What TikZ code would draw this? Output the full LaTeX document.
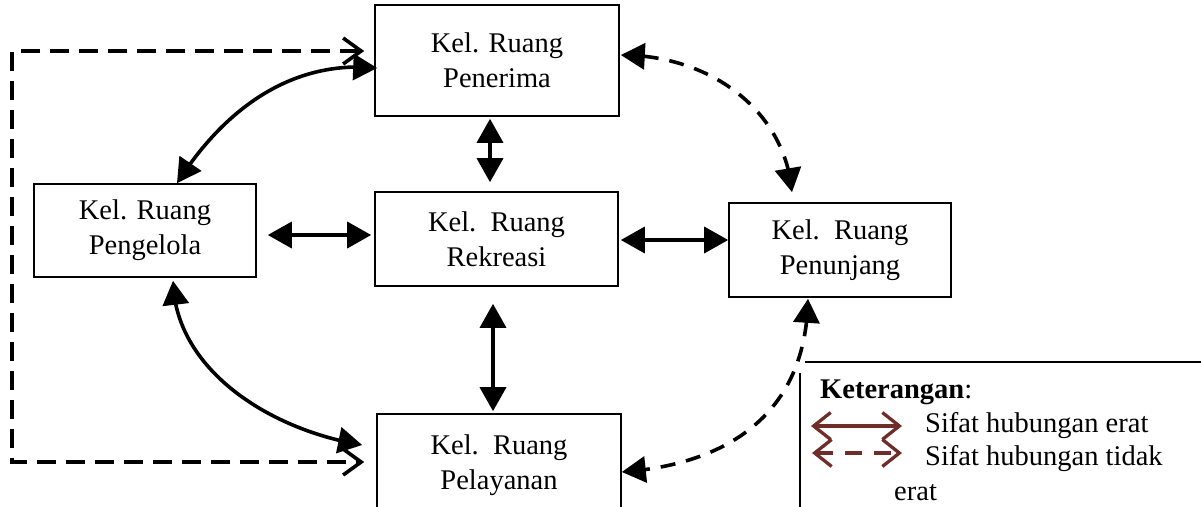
\documentclass[tikz,border=0pt]{standalone}
\usepackage{fontspec}
\setmainfont{Liberation Serif}
\usetikzlibrary{arrows.meta,calc,bending}
\definecolor{legred}{RGB}{112,44,40}
\begin{document}
\begin{tikzpicture}[x=1pt,y=-1pt,
  box/.style={draw,line width=1.6pt,align=center,inner sep=0pt,
    font=\fontsize{28.5}{35}\selectfont},
  legtext/.style={anchor=base west,inner sep=0pt,font=\fontsize{28.5}{33.5}\selectfont},
  tri/.tip={Triangle[length=24pt,width=26pt]},
  barb/.tip={Straight Barb[length=18pt,width=26pt]},
  legbarb/.tip={Straight Barb[length=17pt,width=27pt,line join=miter]},
  solidarrow/.style={line width=3.6pt,tri-tri},
  dasharrow/.style={line width=3.6pt,dash pattern=on 15pt off 11pt,tri-tri},
  orthoarrow/.style={line width=3.6pt,dash pattern=on 19pt off 10pt,barb-barb},
  legsolid/.style={draw=legred,line width=3.3pt,legbarb-legbarb},
  legdash/.style={draw=legred,line width=3.3pt,dash pattern=on 17pt off 12pt,legbarb-legbarb},
  frame/.style={line width=1.6pt}]
\useasboundingbox (0,0) rectangle (1201,506);

% boxes
\node[box,minimum width=244pt,minimum height=111pt] (pen) at (497,60.5) {Kel. Ruang\\Penerima};
\node[box,minimum width=222pt,minimum height=93pt] (peng) at (145,230.5) {Kel. Ruang\\Pengelola};
\node[box,minimum width=243pt,minimum height=94pt] (rek) at (496.5,239) {Kel.\ \ Ruang\\Rekreasi};
\node[box,minimum width=222pt,minimum height=94pt] (pun) at (840,250) {Kel.\ \ Ruang\\Penunjang};
\node[box,minimum width=244pt,minimum height=102pt] (pel) at (499,465) {Kel.\ \ Ruang\\Pelayanan};

% straight arrows
\draw[solidarrow] ($(peng.east)+(11,4.5)$) -- ($(rek.west)+(-3,-4)$);
\draw[solidarrow] ($(rek.east)+(2,1)$) -- ($(pun.west)+(0,-10)$);
\draw[solidarrow] ($(pen.south)+(-7,2)$) -- ($(rek.north)+(-6.5,-9)$);
\draw[solidarrow] ($(rek.south)+(-3.5,17)$) -- ($(pel.north)+(-6,-2)$);

% curved solid arrows
\draw[solidarrow] ($(peng.north)+(32,0)$) .. controls (230,100) and (300,60) .. ($(pen.west)+(3,7.5)$);
\draw[solidarrow] ($(peng.south)+(28,3)$) .. controls (175,370) and (270,430) .. ($(pel.west)+(-14,-20)$);

% curved dashed arrows
\draw[dasharrow] ($(pen.east)+(1,-5.5)$) .. controls (710,55) and (785,110) .. ($(pun.north)+(-48,-10)$);
\draw[dasharrow] ($(pun.south)+(-32,1)$) .. controls (806,420) and (720,465) .. ($(pel.east)+(0,7)$);

% orthogonal dashed connector
\coordinate (otop) at ($(pen.west)+(-10,-9.5)$);
\coordinate (obot) at ($(pel.west)+(-12,-3)$);
\coordinate (ctop) at (12,51);
\coordinate (cbot) at (12,462);
\draw[orthoarrow] (otop) -- (ctop) -- (cbot) -- (obot);

% legend frame
\coordinate (lf1) at (805,362);
\coordinate (lf2) at (1201,362);
\coordinate (lf3) at (800,373);
\coordinate (lf4) at (800,510);
\draw[frame] (lf1) -- (lf2);
\draw[frame] (lf3) -- (lf4);

% legend content
\node[legtext] (ket) at (820,398) {\textbf{Keterangan}:};
\node[legtext] (l1) at (925,432) {Sifat hubungan erat};
\node[legtext] (l2) at (925,465) {Sifat hubungan tidak};
\node[legtext] (l3) at (894,500) {erat};
\coordinate (a1s) at (811,426);
\coordinate (a1e) at (902,426);
\coordinate (a2s) at (812,453);
\coordinate (a2e) at (902,453);
\draw[legsolid] (a1s) -- (a1e);
\draw[legdash] (a2s) -- (a2e);
\end{tikzpicture}
\end{document}
